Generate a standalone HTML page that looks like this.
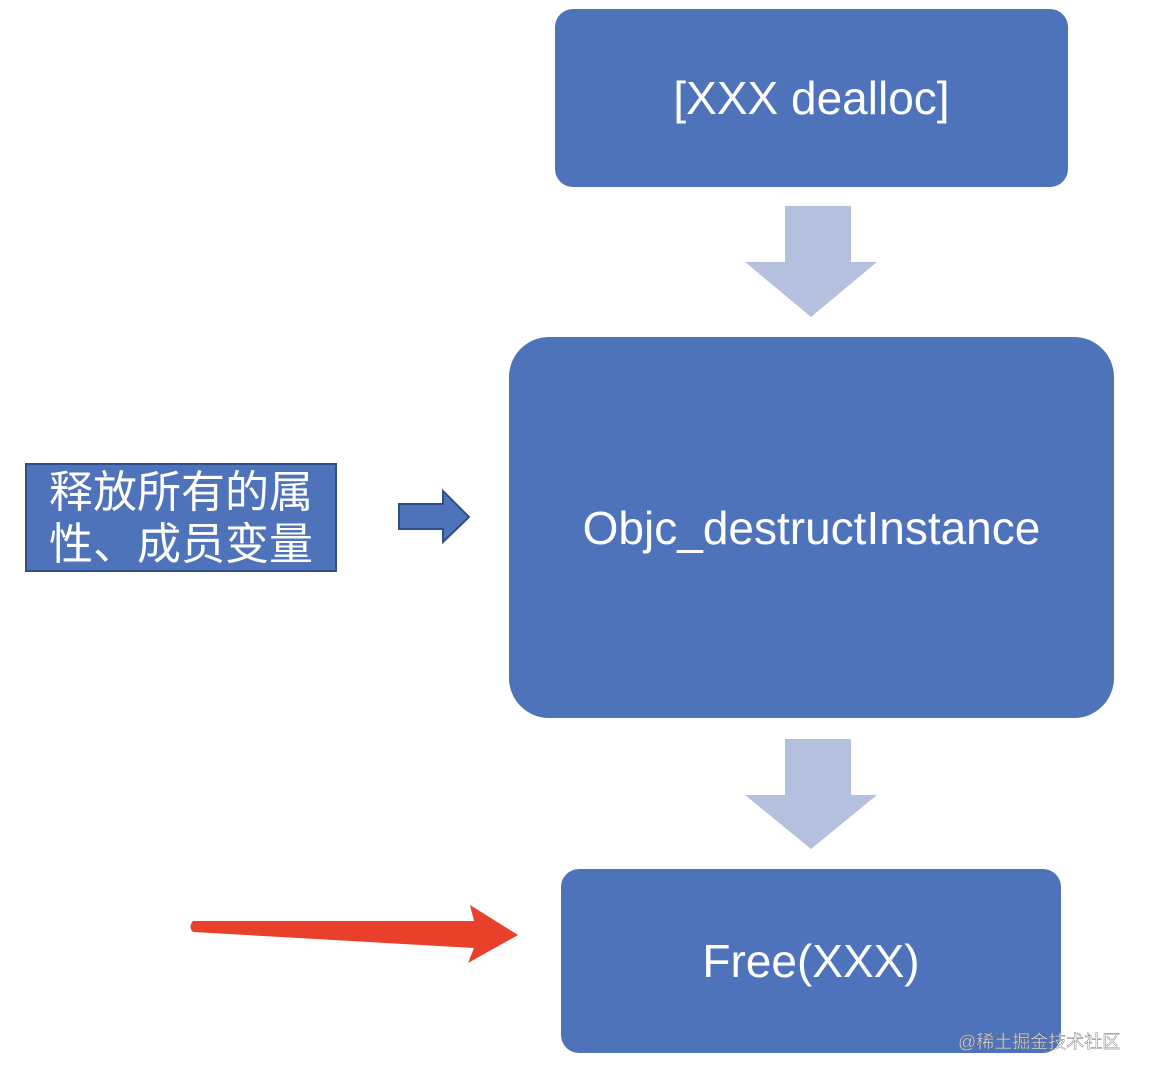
<!DOCTYPE html>
<html><head><meta charset="utf-8"><style>
body{margin:0;width:1149px;height:1080px;background:#fff;position:relative;overflow:hidden;font-family:"Liberation Sans","Noto Sans CJK SC",sans-serif}
.b{position:absolute;background:#4e73bb;color:#fff;display:flex;align-items:center;justify-content:center}
</style></head><body>
<div class="b" style="left:555px;top:9px;width:513px;height:178px;border-radius:18px;font-size:46px">[XXX dealloc]</div>
<div class="b" style="left:509px;top:337px;width:605px;height:381px;border-radius:40px;font-size:46px">Objc_destructInstance</div>
<div class="b" style="left:561px;top:869px;width:500px;height:184px;border-radius:18px;font-size:46px">Free(XXX)</div>
<div class="b" style="left:25px;top:463px;width:308px;height:105px;border:2px solid #2f4f8a;font-size:44px;line-height:52px;text-align:center;display:block;padding-top:2px;box-sizing:content-box;height:103px">释放所有的属<br>性、成员变量</div>
<svg width="1149" height="1080" style="position:absolute;left:0;top:0">
<polygon points="785,206 851,206 851,262 877,262 811,317 745,262 785,262" fill="#b4c0de"/>
<polygon points="785,739 851,739 851,795 877,795 811,849 745,795 785,795" fill="#b4c0de"/>
<polygon points="399,504 443,504 443,491 469,517 443,542 443,529 399,529" fill="#4e73bb" stroke="#2f4f8a" stroke-width="2"/>
<path d="M193,921 L474,921 L470,905 L518,935 L468,963 L474,948 L193,932 Q188,927 193,921 Z" fill="#e8402a"/>
<text x="958" y="1048" font-size="18" fill="#fff" fill-opacity="0.75" stroke="#666" stroke-width="0.4" font-family="Liberation Sans, Noto Sans CJK SC, sans-serif">@稀土掘金技术社区</text>
</svg>
</body></html>
